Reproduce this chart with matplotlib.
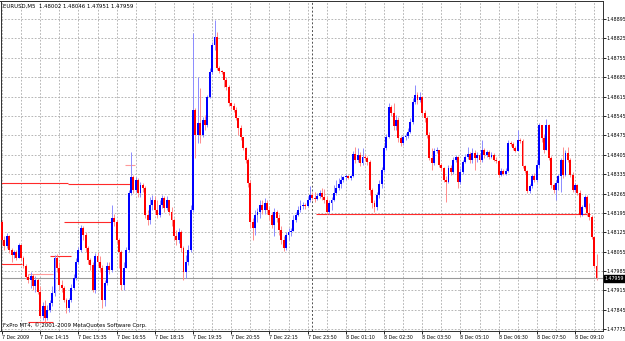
import os
import numpy as np
import matplotlib
matplotlib.use('Agg')
import matplotlib.pyplot as plt
from matplotlib import font_manager
from matplotlib.font_manager import FontProperties

# ====== Data (EURUSD M5) ======
first_open = 1.48162

close = [
    1.48097, 1.48075, 1.48112, 1.48061, 1.48043, 1.48054, 1.48032, 1.48079, 1.48032, 1.48003,
    1.47963, 1.47953, 1.47967, 1.47931, 1.47953, 1.47909, 1.47823, 1.47859, 1.47815, 1.47844,
    1.47870, 1.47906, 1.48032, 1.47996, 1.47935, 1.47924, 1.47880, 1.47851, 1.47880, 1.47924,
    1.47960, 1.48018, 1.48061, 1.48140, 1.48115, 1.48068, 1.48025, 1.48007, 1.47917, 1.48039,
    1.48018, 1.47996, 1.47880, 1.47942, 1.48003, 1.47989, 1.48177, 1.48162, 1.48097, 1.48054,
    1.47935, 1.47996, 1.48061, 1.48267, 1.48325, 1.48278, 1.48314, 1.48267, 1.48296, 1.48285,
    1.48187, 1.48169, 1.48224, 1.48242, 1.48205, 1.48187, 1.48224, 1.48249, 1.48213, 1.48242,
    1.48198, 1.48169, 1.48112, 1.48097, 1.48126, 1.48068, 1.47982, 1.48018, 1.48061, 1.48205,
    1.48567, 1.48476, 1.48520, 1.48476, 1.48531, 1.48512, 1.48614, 1.48704, 1.48801, 1.48830,
    1.48718, 1.48708, 1.48704, 1.48675, 1.48650, 1.48592, 1.48581, 1.48567, 1.48538, 1.48502,
    1.48469, 1.48429, 1.48386, 1.48303, 1.48162, 1.48140, 1.48187, 1.48198, 1.48224, 1.48205,
    1.48231, 1.48205, 1.48187, 1.48151, 1.48198, 1.48177, 1.48133, 1.48097, 1.48068, 1.48115,
    1.48126, 1.48130, 1.48169, 1.48187, 1.48205, 1.48220, 1.48224, 1.48220, 1.48242, 1.48260,
    1.48249, 1.48245, 1.48256, 1.48267, 1.48252, 1.48242, 1.48198, 1.48231, 1.48242, 1.48267,
    1.48285, 1.48299, 1.48314, 1.48325, 1.48328, 1.48321, 1.48328, 1.48408, 1.48386, 1.48404,
    1.48375, 1.48397, 1.48393, 1.48379, 1.48278, 1.48231, 1.48216, 1.48260, 1.48299, 1.48350,
    1.48429, 1.48469, 1.48578, 1.48556, 1.48509, 1.48531, 1.48466, 1.48447, 1.48469, 1.48473,
    1.48487, 1.48523, 1.48596, 1.48621, 1.48603, 1.48614, 1.48556, 1.48538, 1.48476, 1.48393,
    1.48375, 1.48419, 1.48422, 1.48368, 1.48357, 1.48314, 1.48307, 1.48357, 1.48343, 1.48386,
    1.48397, 1.48307, 1.48343, 1.48379, 1.48397, 1.48408, 1.48386, 1.48411, 1.48393, 1.48404,
    1.48386, 1.48422, 1.48404, 1.48415, 1.48397, 1.48404, 1.48386, 1.48382, 1.48332, 1.48346,
    1.48336, 1.48346, 1.48447, 1.48444, 1.48429, 1.48419, 1.48458, 1.48455, 1.48364, 1.48346,
    1.48274, 1.48292, 1.48328, 1.48314, 1.48368, 1.48512, 1.48466, 1.48422, 1.48512, 1.48393,
    1.48296, 1.48278, 1.48303, 1.48328, 1.48386, 1.48332, 1.48411, 1.48386, 1.48332, 1.48278,
    1.48296, 1.48267, 1.48187, 1.48216, 1.48252, 1.48195, 1.48180, 1.48108, 1.48002, 1.47959,
]

high = [
    1.48169, 1.48112, 1.48122, 1.48115, 1.48068, 1.48061, 1.48061, 1.48086, 1.48083, 1.48039,
    1.48010, 1.47974, 1.47982, 1.47974, 1.47967, 1.47960, 1.47931, 1.47873, 1.47880, 1.47862,
    1.47880, 1.47931, 1.48043, 1.48046, 1.48018, 1.47953, 1.47931, 1.47888, 1.47888, 1.47938,
    1.47974, 1.48032, 1.48072, 1.48151, 1.48148, 1.48126, 1.48075, 1.48032, 1.48018, 1.48050,
    1.48054, 1.48039, 1.48007, 1.47953, 1.48018, 1.48018, 1.48224, 1.48191, 1.48169, 1.48104,
    1.48061, 1.48018, 1.48072, 1.48278, 1.48415, 1.48332, 1.48325, 1.48321, 1.48307, 1.48303,
    1.48292, 1.48205, 1.48252, 1.48260, 1.48256, 1.48242, 1.48242, 1.48260, 1.48256, 1.48256,
    1.48242, 1.48216, 1.48177, 1.48133, 1.48140, 1.48133, 1.48075, 1.48043, 1.48079, 1.48224,
    1.48845, 1.48574, 1.48686, 1.48646, 1.48541, 1.48549, 1.48621, 1.48718, 1.48812, 1.48892,
    1.48848, 1.48726, 1.48711, 1.48704, 1.48686, 1.48657, 1.48596, 1.48592, 1.48578, 1.48538,
    1.48512, 1.48469, 1.48433, 1.48393, 1.48314, 1.48177, 1.48205, 1.48213, 1.48242, 1.48242,
    1.48249, 1.48242, 1.48220, 1.48198, 1.48213, 1.48205, 1.48191, 1.48148, 1.48112, 1.48126,
    1.48140, 1.48140, 1.48187, 1.48198, 1.48220, 1.48242, 1.48234, 1.48231, 1.48256, 1.48292,
    1.48270, 1.48270, 1.48267, 1.48278, 1.48285, 1.48281, 1.48256, 1.48242, 1.48252, 1.48296,
    1.48314, 1.48321, 1.48332, 1.48328, 1.48336, 1.48332, 1.48332, 1.48419, 1.48433, 1.48429,
    1.48415, 1.48429, 1.48408, 1.48401, 1.48386, 1.48285, 1.48242, 1.48270, 1.48314, 1.48361,
    1.48440, 1.48480, 1.48592, 1.48585, 1.48592, 1.48549, 1.48541, 1.48473, 1.48476, 1.48484,
    1.48502, 1.48538, 1.48610, 1.48657, 1.48632, 1.48632, 1.48617, 1.48567, 1.48545, 1.48487,
    1.48429, 1.48429, 1.48433, 1.48422, 1.48375, 1.48361, 1.48328, 1.48368, 1.48368, 1.48397,
    1.48404, 1.48401, 1.48357, 1.48386, 1.48408, 1.48433, 1.48415, 1.48429, 1.48422, 1.48415,
    1.48408, 1.48458, 1.48429, 1.48422, 1.48422, 1.48415, 1.48411, 1.48397, 1.48386, 1.48357,
    1.48354, 1.48357, 1.48458, 1.48455, 1.48451, 1.48437, 1.48494, 1.48466, 1.48462, 1.48368,
    1.48350, 1.48299, 1.48336, 1.48339, 1.48386, 1.48520, 1.48512, 1.48480, 1.48534, 1.48516,
    1.48401, 1.48303, 1.48314, 1.48336, 1.48393, 1.48433, 1.48422, 1.48433, 1.48393, 1.48343,
    1.48303, 1.48299, 1.48278, 1.48224, 1.48260, 1.48260, 1.48231, 1.48187, 1.48112, 1.48046,
]

low = [
    1.48079, 1.48061, 1.48068, 1.48050, 1.48018, 1.48032, 1.48025, 1.48032, 1.48025, 1.47996,
    1.47956, 1.47942, 1.47924, 1.47917, 1.47909, 1.47902, 1.47815, 1.47808, 1.47801, 1.47808,
    1.47837, 1.47859, 1.47895, 1.47982, 1.47917, 1.47909, 1.47873, 1.47833, 1.47837, 1.47873,
    1.47917, 1.47953, 1.48010, 1.48054, 1.48097, 1.48054, 1.48010, 1.47989, 1.47909, 1.47906,
    1.48003, 1.47982, 1.47851, 1.47859, 1.47935, 1.47974, 1.47982, 1.48148, 1.48086, 1.47996,
    1.47917, 1.47917, 1.47996, 1.48054, 1.48260, 1.48267, 1.48270, 1.48252, 1.48252, 1.48270,
    1.48177, 1.48151, 1.48155, 1.48205, 1.48191, 1.48177, 1.48180, 1.48213, 1.48198, 1.48205,
    1.48187, 1.48148, 1.48097, 1.48079, 1.48086, 1.48054, 1.47953, 1.47960, 1.48007, 1.48054,
    1.48198, 1.48393, 1.48447, 1.48447, 1.48469, 1.48494, 1.48505, 1.48610, 1.48697, 1.48783,
    1.48711, 1.48700, 1.48697, 1.48650, 1.48639, 1.48581, 1.48570, 1.48559, 1.48531, 1.48476,
    1.48458, 1.48422, 1.48375, 1.48289, 1.48140, 1.48097, 1.48115, 1.48162, 1.48177, 1.48191,
    1.48191, 1.48191, 1.48169, 1.48140, 1.48112, 1.48162, 1.48115, 1.48083, 1.48057, 1.48061,
    1.48097, 1.48112, 1.48151, 1.48162, 1.48184, 1.48198, 1.48209, 1.48209, 1.48216, 1.48234,
    1.48242, 1.48234, 1.48242, 1.48249, 1.48242, 1.48231, 1.48191, 1.48191, 1.48205, 1.48238,
    1.48260, 1.48278, 1.48285, 1.48307, 1.48314, 1.48317, 1.48314, 1.48325, 1.48375, 1.48379,
    1.48364, 1.48368, 1.48386, 1.48368, 1.48260, 1.48213, 1.48198, 1.48205, 1.48249, 1.48285,
    1.48343, 1.48422, 1.48466, 1.48545, 1.48494, 1.48494, 1.48451, 1.48437, 1.48440, 1.48458,
    1.48466, 1.48484, 1.48516, 1.48588, 1.48588, 1.48596, 1.48545, 1.48523, 1.48466, 1.48386,
    1.48350, 1.48368, 1.48411, 1.48361, 1.48346, 1.48307, 1.48234, 1.48303, 1.48332, 1.48336,
    1.48379, 1.48285, 1.48299, 1.48336, 1.48375, 1.48390, 1.48375, 1.48375, 1.48350, 1.48379,
    1.48379, 1.48379, 1.48393, 1.48397, 1.48390, 1.48393, 1.48382, 1.48375, 1.48325, 1.48328,
    1.48332, 1.48332, 1.48343, 1.48437, 1.48422, 1.48415, 1.48419, 1.48447, 1.48357, 1.48339,
    1.48267, 1.48267, 1.48285, 1.48307, 1.48307, 1.48357, 1.48451, 1.48411, 1.48422, 1.48386,
    1.48285, 1.48267, 1.48242, 1.48278, 1.48270, 1.48321, 1.48328, 1.48379, 1.48325, 1.48270,
    1.48270, 1.48260, 1.48180, 1.48184, 1.48213, 1.48184, 1.48169, 1.48101, 1.47996, 1.47951,
]

# horizontal level lines drawn on the chart: price, start bar, end bar
level_price = [1.48303, 1.48299, 1.48162, 1.48039, 1.48010, 1.47974, 1.47801, 1.48368, 1.48191]
level_start = [-1, 27.6, 26, 20, -1, 10.9, 10.9, 51.5, 131.5]
level_end = [27.6, 54.9, 46, 28.9, 8.4, 21.4, 21.4, 55.7, 246.3]
level_pale = [False, False, False, False, False, True, False, True, False]

price_ticks = [1.47775, 1.47845, 1.47915, 1.47985, 1.48055, 1.48125, 1.48195, 1.48265,
               1.48335, 1.48405, 1.48475, 1.48545, 1.48615, 1.48685, 1.48755, 1.48825, 1.48895]
time_tick_bars = [0, 16, 32, 48, 64, 80, 96, 112, 128, 144, 160, 176, 192, 208, 224, 240]
time_labels = ['7 Dec 2009', '7 Dec 14:15', '7 Dec 15:35', '7 Dec 16:55', '7 Dec 18:15',
               '7 Dec 19:35', '7 Dec 20:55', '7 Dec 22:15', '7 Dec 23:50', '8 Dec 01:10',
               '8 Dec 02:30', '8 Dec 03:50', '8 Dec 05:10', '8 Dec 06:30', '8 Dec 07:50',
               '8 Dec 09:10']
day_sep_bar = 130
bid = 1.47959
header = 'EURUSD,M5  1.48002 1.48046 1.47951 1.47959'
footer = 'FxPro MT4, \u00a9 2001-2009 MetaQuotes Software Corp.'


# ====== Font: a narrow face so the tiny MT4 labels fit ======
def pick_font(scale=1.0):
    files = {os.path.basename(f.fname): f.fname for f in font_manager.fontManager.ttflist}
    for fn, size in [('LiberationSansNarrow-Regular.ttf', 4.6),
                     ('DejaVuSansCondensed.ttf', 3.8)]:
        if fn in files:
            return FontProperties(fname=files[fn], size=size * scale)
    return FontProperties(family='DejaVu Sans', size=3.3 * scale)


FP = pick_font()
FP_TXT = pick_font(1.13)   # header / footer are a bit larger

BULL, BEAR = '#0000ff', '#ff0000'
BULL_W, BEAR_W = '#8c8cff', '#ff8c8c'
GRID = '#a9a9a9'

close = np.array(close)
high = np.array(high)
low = np.array(low)
opn = np.r_[first_open, close[:-1]]
x = np.arange(len(close))
up = close >= opn

fig = plt.figure(figsize=(6.25, 3.41), dpi=100)
ax = fig.add_axes([0.5 / 625, 10 / 341, 602 / 625, 330 / 341])
ax.set_xlim(-0.63, 251.5)
ax.set_ylim(1.477684, 1.489604)

# grid
for p in price_ticks:
    ax.axhline(p, color=GRID, lw=0.6, ls=(0, (2, 2)), zorder=0)
for b in range(0, 250, 8):
    ax.axvline(b, color=GRID, lw=0.6, ls=(0, (2, 2)), zorder=0)
ax.axvline(day_sep_bar, color='#505050', lw=0.7, ls=(0, (2, 2)), zorder=0)

# bid line
ax.axhline(bid, color='#9a9a9a', lw=0.8, zorder=1)

# level lines
for p, s, e, pale in zip(level_price, level_start, level_end, level_pale):
    ax.hlines(p, s, e, color='#ff9a9a' if pale else '#ff2a2a', lw=0.8, zorder=1)

# candles
wick_lo = np.minimum(low, np.minimum(opn, close))
wick_hi = np.maximum(high, np.maximum(opn, close))
ax.vlines(x, wick_lo, wick_hi, colors=np.where(up, BULL_W, BEAR_W), lw=0.7, zorder=2)
body_h = np.maximum(np.abs(close - opn), 0.00002)
ax.bar(x, body_h, bottom=np.minimum(opn, close), width=0.8,
       color=np.where(up, BULL, BEAR), linewidth=0, zorder=3)

# axes
for sp in ax.spines.values():
    sp.set_color('#303030')
    sp.set_linewidth(0.7)
ax.yaxis.tick_right()
ax.set_yticks(price_ticks)
ax.set_yticklabels([f'{p:.5f}' for p in price_ticks])
ax.set_xticks(time_tick_bars)
ax.set_xticklabels(time_labels, ha='left')
ax.tick_params(axis='y', direction='out', length=2, width=0.6, pad=1.0, colors='black')
ax.tick_params(axis='x', direction='out', length=2, width=0.6, pad=0.8, colors='black')
for lbl in ax.get_yticklabels() + ax.get_xticklabels():
    lbl.set_fontproperties(FP)
ax.set_facecolor('white')

fig.text(3 / 625, 1 - 6.5 / 341, header, fontproperties=FP_TXT, va='center', ha='left')
fig.text(3 / 625, 1 - 325 / 341, footer, fontproperties=FP_TXT, va='center', ha='left')
fig.text(604.5 / 625, 1 - 278.5 / 341, f'{bid:.5f}', fontproperties=FP, color='white',
         va='center', ha='left',
         bbox=dict(boxstyle='square,pad=0.15', fc='black', ec='black'))

fig.savefig('out.png', dpi=100, facecolor='white')
